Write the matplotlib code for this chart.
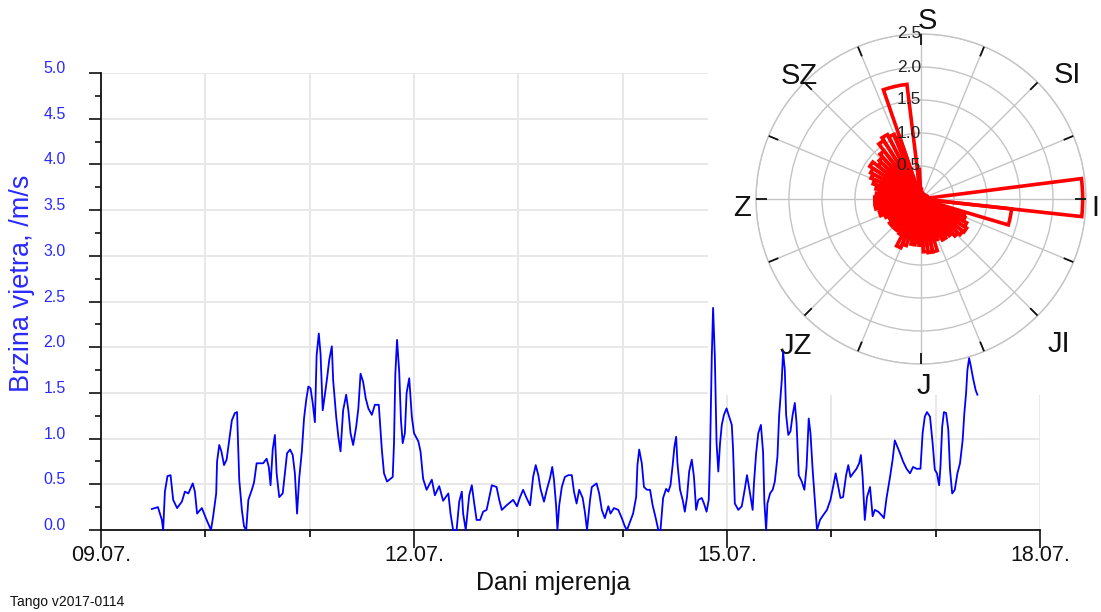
import numpy as np
import matplotlib
matplotlib.use("Agg")
import matplotlib.pyplot as plt
from matplotlib.patches import Rectangle

plt.rcParams['font.family'] = ['Liberation Sans', 'DejaVu Sans']

# ---------------- data ----------------
# hours since 09.07. 00:00
hours = [11.7, 13.1, 14.0, 14.3, 14.7, 15.3, 16.0, 16.6, 17.5, 18.6, 19.3, 20.1, 21.1, 21.6, 22.1, 23.2,
         24.3, 25.3, 25.8, 26.5, 26.7, 27.2, 27.7, 28.3, 28.9, 29.7, 30.1, 30.8, 31.3, 31.8, 32.4, 32.9,
         33.4, 33.9, 34.7, 35.2, 35.8, 36.6, 37.3, 38.1, 38.6, 39.0, 39.5, 40.0, 40.4, 41.0, 41.8, 42.3,
         42.8, 43.5, 44.1, 44.6, 45.1, 45.6, 46.2, 46.7, 47.2, 47.7, 48.2, 48.7, 49.2, 49.6, 50.1, 50.5,
         51.0, 51.5, 52.0, 52.5, 53.1, 53.4, 54.1, 54.6, 55.1, 55.7, 56.4, 56.9, 57.4, 58.0, 58.7, 59.2,
         59.7, 60.3, 60.9, 61.5, 62.3, 63.0, 63.9, 64.6, 65.1, 65.8, 67.1, 67.4, 67.7, 68.1, 68.6, 69.0,
         69.4, 69.9, 70.3, 70.9, 71.5, 72.0, 73.0, 73.5, 74.1, 74.9, 76.1, 76.8, 77.8, 78.7, 79.9, 80.4,
         81.0, 81.8, 82.4, 83.0, 83.3, 83.9, 84.7, 85.3, 85.8, 86.4, 87.2, 87.9, 88.7, 89.2, 89.9, 91.0,
         91.6, 92.2, 93.3, 94.8, 95.7, 96.4, 97.1, 97.9, 98.7, 99.4, 100.0, 100.6, 101.1, 101.9, 102.6, 103.3,
         103.8, 104.2, 104.7, 105.0, 105.4, 106.0, 106.7, 107.5, 108.3, 108.8, 109.4, 110.0, 110.8, 111.3, 111.8, 112.5,
         112.9, 114.0, 114.6, 115.2, 115.9, 116.7, 117.2, 118.0, 119.0, 119.8, 120.5, 121.0, 121.7, 122.4, 123.1, 123.4,
         123.8, 124.4, 124.9, 125.6, 126.3, 126.9, 127.7, 128.2, 128.7, 129.3, 130.0, 130.5, 131.0, 131.5, 131.9, 132.3,
         132.6, 133.2, 133.8, 134.3, 134.8, 135.3, 135.9, 136.4, 136.9, 137.4, 138.2, 138.7, 139.3, 139.8, 140.1, 140.5,
         140.8, 141.2, 141.6, 142.0, 142.4, 142.8, 143.3, 143.9, 144.5, 145.1, 145.4, 145.8, 146.6, 147.4, 148.1, 148.6,
         149.3, 149.9, 150.2, 150.7, 151.2, 151.8, 152.3, 152.6, 153.0, 153.3, 153.9, 154.5, 155.0, 155.6, 156.0, 156.6,
         156.9, 157.3, 157.6, 158.1, 158.6, 159.1, 159.6, 160.0, 160.5, 161.2, 161.8, 162.3, 162.8, 163.2, 163.7, 164.2,
         164.7, 165.4, 166.1, 167.0, 167.8, 168.4, 169.0, 169.6, 170.1, 170.7, 171.4, 171.9, 172.4, 173.0, 173.8, 174.4,
         174.8, 175.2, 175.7, 176.2, 176.9, 177.5, 178.0, 178.8, 179.6, 180.1, 180.7, 181.5, 182.1, 182.6, 183.2, 183.8,
         184.5, 185.3, 186.1, 186.8, 187.6, 188.5, 189.0, 189.5, 190.0, 190.7, 191.3, 191.8, 192.3, 192.8, 193.1, 193.5,
         193.9, 194.4, 194.9, 195.3, 195.8, 196.4, 197.0, 197.6, 198.2, 198.6, 199.0, 199.3, 199.7, 200.1, 200.6, 201.2,
         201.6]
speed = [0.23, 0.25, 0.11, 0.0, 0.42, 0.59, 0.60, 0.33, 0.24, 0.31, 0.42, 0.40, 0.51, 0.42, 0.18, 0.24,
         0.11, 0.0, 0.15, 0.40, 0.75, 0.93, 0.86, 0.71, 0.77, 1.06, 1.20, 1.28, 1.29, 0.55, 0.22, 0.04,
         0.0, 0.33, 0.44, 0.52, 0.73, 0.73, 0.73, 0.78, 0.69, 0.49, 0.88, 1.04, 0.62, 0.36, 0.40, 0.62,
         0.84, 0.88, 0.82, 0.62, 0.18, 0.57, 0.86, 1.22, 1.42, 1.57, 1.55, 1.39, 1.18, 1.91, 2.15, 1.93,
         1.31, 1.48, 1.66, 1.86, 2.01, 1.64, 1.24, 1.02, 0.86, 1.31, 1.48, 1.31, 1.06, 0.93, 1.13, 1.33,
         1.71, 1.62, 1.44, 1.33, 1.26, 1.37, 1.37, 0.88, 0.62, 0.53, 0.58, 0.95, 1.70, 2.08, 1.73, 1.20,
         0.95, 1.06, 1.50, 1.66, 1.24, 1.06, 0.97, 0.86, 0.56, 0.44, 0.55, 0.38, 0.48, 0.32, 0.40, 0.18,
         0.0, 0.0, 0.31, 0.42, 0.18, 0.0, 0.38, 0.49, 0.31, 0.11, 0.11, 0.20, 0.22, 0.33, 0.49, 0.47,
         0.33, 0.22, 0.27, 0.33, 0.26, 0.36, 0.44, 0.35, 0.27, 0.58, 0.71, 0.60, 0.45, 0.31, 0.45, 0.57,
         0.69, 0.55, 0.26, 0.0, 0.27, 0.47, 0.58, 0.60, 0.60, 0.42, 0.29, 0.44, 0.35, 0.20, 0.0, 0.33,
         0.47, 0.51, 0.40, 0.22, 0.13, 0.26, 0.18, 0.24, 0.22, 0.13, 0.04, 0.0, 0.09, 0.18, 0.36, 0.71,
         0.88, 0.73, 0.47, 0.44, 0.44, 0.27, 0.11, 0.0, 0.0, 0.35, 0.45, 0.42, 0.49, 0.71, 0.91, 1.02,
         0.73, 0.44, 0.33, 0.20, 0.36, 0.64, 0.77, 0.58, 0.22, 0.33, 0.35, 0.29, 0.20, 0.33, 0.84, 1.90,
         2.43, 1.90, 0.95, 0.64, 0.95, 1.15, 1.26, 1.33, 1.24, 1.15, 0.88, 0.29, 0.22, 0.26, 0.45, 0.60,
         0.40, 0.22, 0.51, 0.84, 1.06, 1.15, 0.85, 0.30, 0.0, 0.29, 0.40, 0.44, 0.53, 0.80, 1.26, 1.64,
         1.95, 1.75, 1.26, 1.04, 1.08, 1.26, 1.39, 1.17, 0.60, 0.53, 0.44, 0.69, 1.22, 1.06, 0.66, 0.33,
         0.0, 0.11, 0.16, 0.22, 0.33, 0.47, 0.62, 0.47, 0.35, 0.36, 0.60, 0.71, 0.58, 0.62, 0.67, 0.73,
         0.82, 0.58, 0.11, 0.36, 0.47, 0.15, 0.22, 0.20, 0.16, 0.13, 0.35, 0.58, 0.77, 0.98, 0.91, 0.84,
         0.75, 0.67, 0.62, 0.69, 0.67, 0.67, 1.06, 1.24, 1.29, 1.24, 0.95, 0.66, 0.62, 0.49, 0.69, 1.13,
         1.29, 1.28, 1.10, 0.66, 0.40, 0.44, 0.62, 0.73, 0.98, 1.28, 1.50, 1.75, 1.88, 1.79, 1.66, 1.53,
         1.48]

day_ticks = [0, 3, 6, 9]
day_labels = ["09.07.", "12.07.", "15.07.", "18.07."]
y_ticks = [0.0, 0.5, 1.0, 1.5, 2.0, 2.5, 3.0, 3.5, 4.0, 4.5, 5.0]

# wind rose: mean speed per direction sector (degrees clockwise from north)
rose_dir = (list(range(0, 85, 5)) + [89.5, 101.4] + list(range(110, 340, 5)) + [339, 347, 355])
rose_width = ([5] * 17 + [13.5, 10.3] + [5] * 46 + [4, 12, 4])
rose_speed = ([0.15, 0.10, 0.08, 0.08, 0.07, 0.07, 0.07, 0.07, 0.08, 0.08, 0.07, 0.08,
               0.08, 0.09, 0.10, 0.10, 0.10]
              + [2.45, 1.38]
              + [0.70, 0.72, 0.78, 0.82, 0.80, 0.76, 0.70, 0.66, 0.70, 0.62, 0.66, 0.82, 0.82, 0.80,
                 0.70, 0.66, 0.70, 0.62, 0.74, 0.80, 0.62, 0.56, 0.60, 0.55,
                 0.60, 0.55, 0.56, 0.60, 0.66, 0.64, 0.70, 0.70, 0.70, 0.68,
                 0.64, 0.70, 0.76, 0.82, 0.86, 0.92, 0.82, 0.86, 0.92, 1.05,
                 1.10, 1.06]
              + [1.00, 1.75, 0.45])
rose_rings = [0.5, 1.0, 1.5, 2.0, 2.5]
compass_labels = ["S", "SI", "I", "JI", "J", "JZ", "Z", "SZ"]
compass_deg = [2, 49, 92, 136, 179, 221, 268, 316]
compass_r = [2.74, 2.94, 2.64, 3.0, 2.79, 2.89, 2.71, 2.66]

# ---------------- figure ----------------
W, H = 1101, 612
fig = plt.figure(figsize=(W / 100, H / 100), dpi=100)
fig.patch.set_facecolor("white")

rect = [101 / W, 1 - 530 / H, 939 / W, 457 / H]
ax = fig.add_axes(rect, zorder=0)
ax.set_xlim(0, 9)
ax.set_ylim(0, 5)
ax.set_xticks(day_ticks)
ax.set_xticklabels(day_labels)
ax.set_xticks(np.arange(0, 10, 1), minor=True)
ax.set_yticks(y_ticks)
ax.set_yticklabels([f"{v:.1f}" for v in y_ticks])
ax.set_yticks(np.arange(0.25, 5, 0.5), minor=True)
for s in ("top", "right"):
    ax.spines[s].set_visible(False)
for s in ("left", "bottom"):
    ax.spines[s].set_linewidth(1.3)
    ax.spines[s].set_color("#111111")
ax.xaxis.grid(True, which="both", color="#e8e8e8", lw=1.4)
ax.yaxis.grid(True, which="major", color="#e8e8e8", lw=1.4)
ax.set_axisbelow(True)
ax.tick_params(axis="x", which="major", length=13, width=1.2, direction="out",
               pad=-2.5, labelsize=15.5, colors="#111111")
ax.tick_params(axis="x", which="minor", length=5, width=1.2, direction="out")
ax.tick_params(axis="y", which="major", length=8.5, width=1.2, direction="out",
               pad=17, labelsize=11.5, labelcolor="#2a2aff", color="#111111")
ax.tick_params(axis="y", which="minor", length=4.5, width=1.2, direction="out", color="#111111")
for lab in ax.get_yticklabels():
    lab.set_va("baseline")

fig.text(22 / W, 1 - 283 / H, "Brzina vjetra, /m/s", rotation=90, ha="center", va="center",
         fontsize=19.5, color="#2a2aff")
fig.text(553 / W, 1 - 583 / H, "Dani mjerenja", ha="center", va="center", fontsize=18, color="#111111")
fig.text(10 / W, 1 - 602 / H, "Tango v2017-0114", ha="left", va="center", fontsize=10, color="#111111")

# white cover behind the polar inset
fig.patches.append(Rectangle((708 / W, 1 - 395 / H), (W - 708) / W, 395 / H,
                             transform=fig.transFigure, facecolor="white", edgecolor="none", zorder=0.5))

# ---------------- polar inset ----------------
cx, cy, R = 921, 199, 165
pax = fig.add_axes([(cx - R) / W, 1 - (cy + R) / H, 2 * R / W, 2 * R / H], projection="polar", zorder=1)
pax.set_theta_zero_location("N")
pax.set_theta_direction(-1)
pax.set_ylim(0, 2.5)
pax.set_yticks(rose_rings)
pax.set_yticklabels([])
pax.set_xticks(np.deg2rad(np.arange(0, 360, 22.5)))
pax.set_xticklabels([])
pax.grid(True, color="#c4c4c4", lw=1.0)
pax.spines["polar"].set_color("#c4c4c4")
pax.spines["polar"].set_linewidth(1.0)
pax.tick_params(axis="x", length=0)
pax.patch.set_facecolor("white")

pax.bar(np.deg2rad(rose_dir), rose_speed, width=np.deg2rad(rose_width), bottom=0,
        facecolor="none", edgecolor="#ff0000", lw=2.6, align="center", zorder=3)

for a in np.arange(0, 360, 22.5):
    t = np.deg2rad(a)
    pax.plot([t, t], [2.34, 2.5], color="#111111", lw=1.3, zorder=4, solid_capstyle="butt")

for r in rose_rings:
    pax.text(0, r, f"{r:.1f}", ha="right", va="center", fontsize=12.5, color="#222222", zorder=5)

for lab, a, rr in zip(compass_labels, compass_deg, compass_r):
    pax.text(np.deg2rad(a), rr, lab, ha="center", va="center_baseline", fontsize=21,
             color="#111111", clip_on=False, zorder=5)

# ---------------- time series on top ----------------
lax = fig.add_axes(rect, zorder=2, sharex=ax, sharey=ax)
lax.patch.set_visible(False)
lax.axis("off")
lax.plot(np.array(hours) / 24.0, speed, color="#0000ff", lw=1.3, clip_on=False)

fig.savefig("out.png", dpi=100)
